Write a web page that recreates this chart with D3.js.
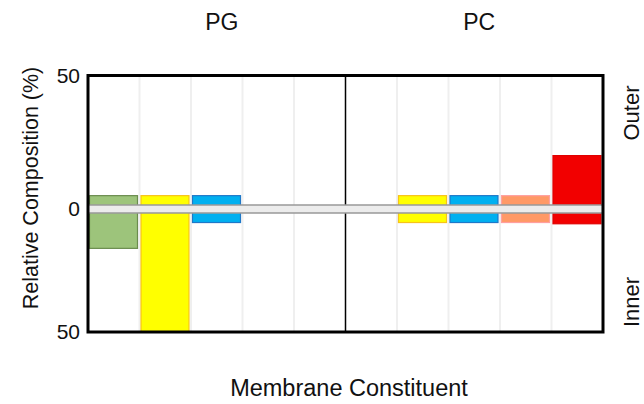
<!DOCTYPE html>
<html>
<head>
<meta charset="utf-8">
<script src="https://cdn.jsdelivr.net/npm/d3@7"></script>
<style>
  body { margin: 0; background: #fff; }
  svg { display: block; font-family: Arial, "Liberation Sans", sans-serif; }
</style>
</head>
<body>
<div id="wrapper"></div>
<script>
// data
const groups = ['PG', 'PC'];
const categories = ['PG-1', 'PG-2', 'PG-3', 'PG-4', 'PG-5', 'PC-1', 'PC-2', 'PC-3', 'PC-4', 'PC-5'];
const outerValues = [5, 5, 5, 0, 0, 0, 5, 5, 5, 20];
const innerValues = [16, 50, 5.5, 0, 0, 0, 5.5, 5.5, 5.5, 6];
const fillColors = ['#9dc47b', '#ffff00', '#00b0f0', '#fff', '#fff', '#fff', '#ffff00', '#00b0f0', '#ff9966', '#f20000'];
const edgeColors = ['#6a8c4e', '#f7c31a', '#1f78c8', '#fff', '#fff', '#fff', '#f7c31a', '#1f78c8', '#ff9f9f', '#e00000'];
const yTicks = [50, 0, -50];

const dimensions = {
  width: 644,
  height: 404,
  margin: { top: 75.5, right: 41, bottom: 72, left: 88 },
};

const wrapper = d3.select('#wrapper')
  .append('svg')
  .attr('width', dimensions.width)
  .attr('height', dimensions.height);

const plotLeft = dimensions.margin.left;
const plotRight = dimensions.width - dimensions.margin.right;
const plotTop = dimensions.margin.top;
const plotBottom = dimensions.height - dimensions.margin.bottom;

// scales (outer half is a bit taller than inner half in the original)
const xScale = d3.scaleBand().domain(categories).range([plotLeft, plotRight]);
const yScale = d3.scaleLinear().domain([-50, 0, 50]).range([plotBottom, 209, plotTop]);

// grid lines between columns
wrapper.append('g')
  .selectAll('line')
  .data(categories.slice(1).filter((d, i) => i !== 4))
  .join('line')
  .attr('x1', (d) => xScale(d))
  .attr('x2', (d) => xScale(d))
  .attr('y1', plotTop)
  .attr('y2', plotBottom)
  .attr('stroke', '#efefef')
  .attr('stroke-width', 2);

// bars
const rows = categories.map((c, i) => ({ c, outer: outerValues[i], inner: innerValues[i], fill: fillColors[i], edge: edgeColors[i] }));
const bars = wrapper.append('g');

bars.selectAll('rect')
  .data(rows.filter((d) => d.outer > 0 || d.inner > 0))
  .join('rect')
  .attr('x', (d) => xScale(d.c) + 1.5)
  .attr('y', (d) => yScale(d.outer))
  .attr('width', xScale.bandwidth() - 3.5)
  .attr('height', (d) => yScale(-d.inner) - yScale(d.outer))
  .attr('fill', (d) => d.fill)
  .attr('stroke', (d) => d.edge)
  .attr('stroke-width', 1.2);

// divider between PG and PC
wrapper.append('line')
  .attr('x1', xScale('PC-1'))
  .attr('x2', xScale('PC-1'))
  .attr('y1', plotTop)
  .attr('y2', plotBottom)
  .attr('stroke', '#000')
  .attr('stroke-width', 1.5);

// zero bar
wrapper.append('rect')
  .attr('x', plotLeft)
  .attr('y', yScale(0) - 4)
  .attr('width', plotRight - plotLeft)
  .attr('height', 8)
  .attr('fill', '#ececec')
  .attr('stroke', '#999')
  .attr('stroke-width', 1.5);

// frame
wrapper.append('rect')
  .attr('x', plotLeft)
  .attr('y', plotTop)
  .attr('width', plotRight - plotLeft)
  .attr('height', plotBottom - plotTop)
  .attr('fill', 'none')
  .attr('stroke', '#000')
  .attr('stroke-width', 3);

// y axis
const yAxisGenerator = d3.axisLeft(yScale)
  .tickValues(yTicks)
  .tickSize(0)
  .tickPadding(8)
  .tickFormat((d) => Math.abs(d));

const yAxis = wrapper.append('g')
  .attr('transform', `translate(${plotLeft},0)`)
  .call(yAxisGenerator);
yAxis.select('.domain').remove();
yAxis.selectAll('text')
  .style('font-size', '21px')
  .style('font-family', 'Arial, "Liberation Sans", sans-serif')
  .attr('fill', '#111');

// peripherals
const groupCenter = (g) => xScale(g + '-3') + xScale.bandwidth() / 2 + 5;

wrapper.append('g')
  .selectAll('text')
  .data(groups)
  .join('text')
  .attr('x', (d) => groupCenter(d))
  .attr('y', 30)
  .attr('text-anchor', 'middle')
  .style('font-size', '23px')
  .attr('fill', '#111')
  .text((d) => d);

wrapper.append('text')
  .attr('transform', 'translate(31,188) rotate(-90)')
  .attr('text-anchor', 'middle')
  .attr('dominant-baseline', 'central')
  .style('font-size', '21.5px')
  .attr('fill', '#111')
  .text('Relative Composition (%)');

wrapper.append('text')
  .attr('x', 349)
  .attr('y', 396)
  .attr('text-anchor', 'middle')
  .style('font-size', '23.5px')
  .attr('fill', '#111')
  .text('Membrane Constituent');

wrapper.append('text')
  .attr('transform', 'translate(631,113) rotate(-90)')
  .attr('text-anchor', 'middle')
  .attr('dominant-baseline', 'central')
  .style('font-size', '22px')
  .attr('fill', '#111')
  .text('Outer');

wrapper.append('text')
  .attr('transform', 'translate(631,302) rotate(-90)')
  .attr('text-anchor', 'middle')
  .attr('dominant-baseline', 'central')
  .style('font-size', '22px')
  .attr('fill', '#111')
  .text('Inner');
</script>
</body>
</html>
